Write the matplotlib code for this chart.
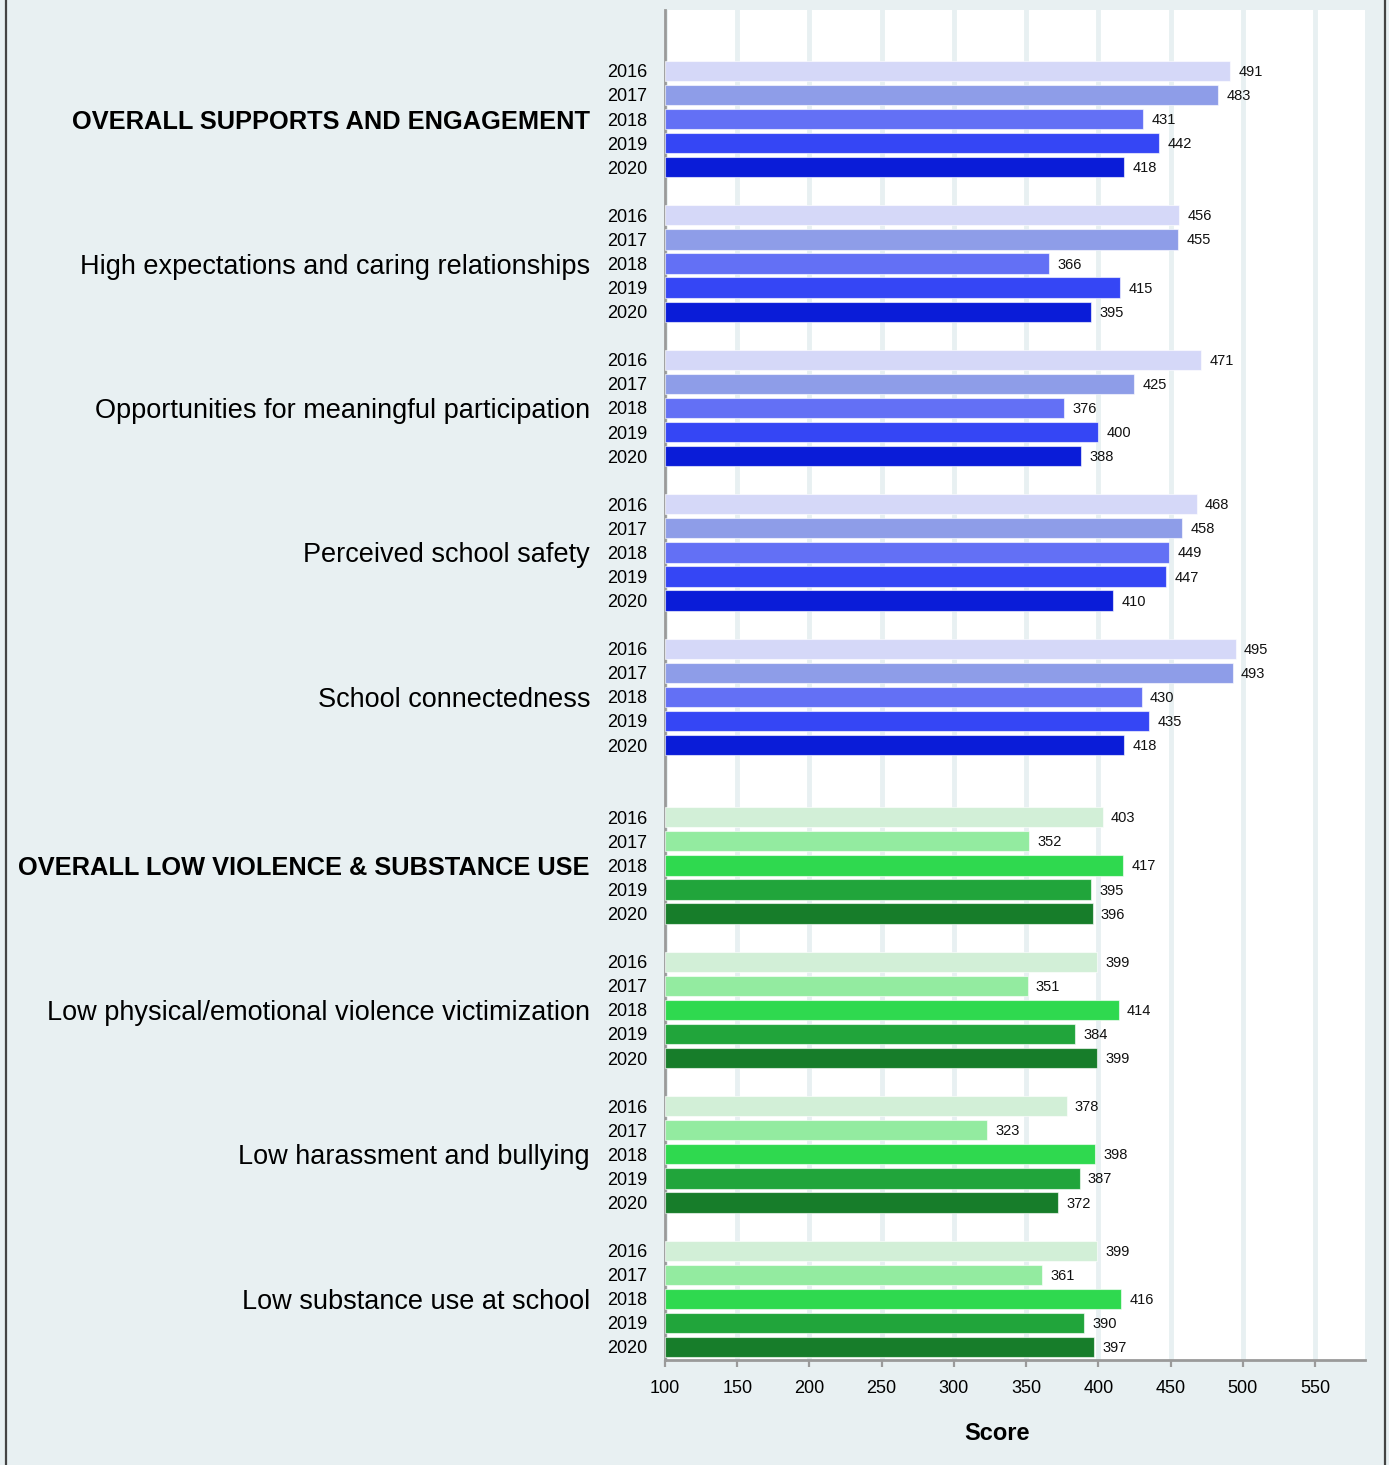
import matplotlib
matplotlib.use("Agg")
import matplotlib.pyplot as plt
from matplotlib.lines import Line2D

plt.rcParams['font.family'] = ['Liberation Sans', 'DejaVu Sans']

# data
years = ['2016', '2017', '2018', '2019', '2020']
categories = [
    'OVERALL SUPPORTS AND ENGAGEMENT',
    'High expectations and caring relationships',
    'Opportunities for meaningful participation',
    'Perceived school safety',
    'School connectedness',
    'OVERALL LOW VIOLENCE & SUBSTANCE USE',
    'Low physical/emotional violence victimization',
    'Low harassment and bullying',
    'Low substance use at school',
]
bold_cats = ['OVERALL SUPPORTS AND ENGAGEMENT', 'OVERALL LOW VIOLENCE & SUBSTANCE USE']
scores = [
    [491, 483, 431, 442, 418],
    [456, 455, 366, 415, 395],
    [471, 425, 376, 400, 388],
    [468, 458, 449, 447, 410],
    [495, 493, 430, 435, 418],
    [403, 352, 417, 395, 396],
    [399, 351, 414, 384, 399],
    [378, 323, 398, 387, 372],
    [399, 361, 416, 390, 397],
]
blues = ['#d5d8f8', '#8e9de8', '#6370f5', '#3546f5', '#0a1cd8']
greens = ['#d2efd7', '#93eba0', '#2fd94f', '#21a53b', '#177d2a']
n_blue = 5  # first five categories are the "supports" group

bg = '#e8f0f2'
fig = plt.figure(figsize=(13.89, 14.65), dpi=100, facecolor=bg)
ax = fig.add_axes([665 / 1389, 1 - 1360 / 1465, 700 / 1389, 1350 / 1465])
ax.set_facecolor('white')

ypos, ylabels = [], []
start = 0
for ci, (cat, vals) in enumerate(zip(categories, scores)):
    if ci == n_blue:
        start += 1  # extra gap between the two sections
    cols = blues if ci < n_blue else greens
    ys = [start + i for i in range(len(years))]
    ax.barh(ys, [v - 100 for v in vals], left=100, height=0.84, color=cols,
            edgecolor=(1, 1, 1, 0.6), linewidth=0.8, zorder=3)
    for y, v in zip(ys, vals):
        ax.annotate(str(v), (v, y), xytext=(6, -0.7), textcoords='offset points',
                    va='center', ha='left', fontsize=10.5, color='#111111')
    ypos += ys
    ylabels += years
    mid = ys[2]
    is_bold = cat in bold_cats
    ax.annotate(cat, (0, mid), xycoords=('axes fraction', 'data'),
                xytext=(-75, -3), textcoords='offset pixels',
                ha='right', va='center', fontsize=18.3 if is_bold else 19.5,
                fontweight='bold' if is_bold else 'normal', color='black')
    start += 6

ax.set_ylim(ypos[-1] + 0.54, -2.53)
ax.set_xlim(100, 584.6)
ax.set_yticks(ypos)
ax.set_yticklabels(ylabels, fontsize=13)
ax.tick_params(axis='y', length=0, pad=13)
ax.set_xticks(range(100, 551, 50))
ax.tick_params(axis='x', labelsize=13, length=5, width=1.6, color='#9a9a9a', pad=9.5)
ax.grid(axis='x', color=bg, linewidth=3.5, zorder=0)
for s in ['top', 'right']:
    ax.spines[s].set_visible(False)
for s in ['left', 'bottom']:
    ax.spines[s].set_color('#9a9a9a')
    ax.spines[s].set_linewidth(2)

fig.text(997 / 1389, 1 - 1433 / 1465, 'Score', ha='center', va='center',
         fontsize=17, fontweight='bold')

# outer frame lines on left and right
fig.add_artist(Line2D([6 / 1389, 6 / 1389], [0, 1], color='#444444', linewidth=1.6))
fig.add_artist(Line2D([1385 / 1389, 1385 / 1389], [0, 1], color='#444444', linewidth=1.6))

fig.savefig('out.png', dpi=100, facecolor=bg)
